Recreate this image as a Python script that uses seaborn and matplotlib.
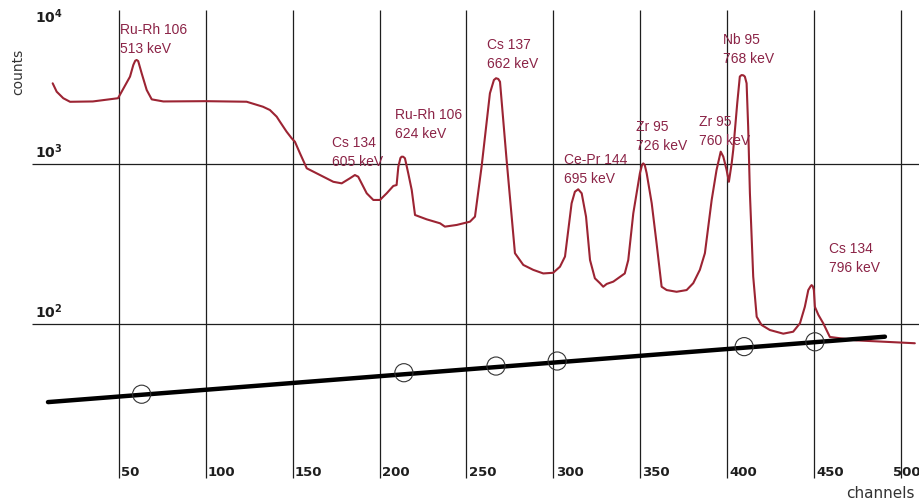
import matplotlib
matplotlib.use("Agg")
import matplotlib.pyplot as plt
import seaborn as sns
import pandas as pd

# spectrum (channel, counts)
spec_ch = [11.9, 14.2, 18.0, 21.9, 35.0, 49.5, 56.4, 58.3, 59.4, 60.2, 61.1, 63.1, 66.0, 68.9, 75.6,
           100.0, 123.5, 132.9, 136.9, 140.8, 142.7, 146.5, 149.4, 151.3, 154.2, 158.1,
           165.7, 173.4, 178.2, 183.0, 185.8, 187.7, 192.6, 196.4, 200.2, 204.1, 207.9,
           209.8, 210.8, 212.0, 212.7, 213.6, 214.6, 216.5, 218.5, 220.4, 227.1, 234.8, 237.6, 244.4,
           252.0, 254.9, 258.7, 263.5, 265.8, 267.0, 268.3, 269.3, 273.1, 277.9, 282.7, 288.4, 294.2,
           299.9, 303.8, 306.7, 310.5, 312.4, 314.3, 316.3, 318.8, 321.1, 323.9, 326.8,
           328.7, 330.7, 334.5, 341.1, 343.1, 346.0, 349.8, 351.0, 351.7, 352.6, 353.7, 356.6, 359.4,
           362.3, 365.2, 370.9, 376.7, 380.5, 384.3, 387.2, 391.1, 393.9, 396.3, 397.8,
           399.7, 401.0, 402.6, 403.5, 405.8, 407.3, 408.3, 409.4, 410.2, 411.2, 412.1, 413.1, 415.0,
           417.0, 419.8, 424.6, 432.3, 438.0, 441.9, 444.7, 446.7, 448.0, 448.6, 449.3, 449.9, 450.5,
           452.5, 455.3, 459.1, 474.5, 508.0]
spec_counts = [3194, 2831, 2577, 2448, 2460, 2577, 3516, 4159, 4420, 4467, 4400, 3690, 2901, 2535, 2460,
               2470, 2450, 2280, 2175, 1976, 1836, 1592, 1449, 1377, 1166, 940,
               853, 774, 757, 815, 853, 833, 656, 596, 596, 656, 729,
               739, 962, 1090, 1111, 1110, 1086, 875, 688, 480, 451, 426, 406, 416,
               436, 469, 962, 2767, 3350, 3436, 3400, 3266, 1059, 277, 234, 218, 207,
               209, 228, 264, 568, 671, 695, 656, 469, 251, 193, 180,
               171, 178, 184, 207, 251, 492, 875, 985, 1009, 985, 875, 568, 319,
               171, 163, 159, 163, 180, 218, 277, 596, 917, 1194, 1111,
               917, 774, 1009, 1223, 2393, 3520, 3597, 3580, 3516, 3194, 1709, 656, 198,
               111, 98.6, 91.7, 87, 89.5, 101, 128, 163, 172, 175, 172, 163, 128,
               114, 101, 83, 79, 75.8]

# calibration line and its points
line_ch = [9.2, 490.8]
line_counts = [32.5, 83.3]
circle_ch = [63.1, 214.0, 267.0, 302.2, 409.8, 450.5]
circle_counts = [36.4, 49.6, 54.6, 58.7, 72.2, 77.4]

grid_ch = [50, 100, 150, 200, 250, 300, 350, 400, 450, 500]
tick_labels = ["50", "100", "150", "200", "250", "300", "350", "400", "450", "500"]
decades = [100, 1000]
decade_labels = [r"$\mathregular{10^2}$", r"$\mathregular{10^3}$", r"$\mathregular{10^4}$"]

peak_names = ["Ru-Rh 106\n513 keV", "Cs 134\n605 keV", "Ru-Rh 106\n624 keV",
              "Cs 137\n662 keV", "Ce-Pr 144\n695 keV", "Zr 95\n726 keV",
              "Zr 95\n760 keV", "Nb 95\n768 keV", "Cs 134\n796 keV"]
label_pos = [(50.6, 7600), (172.6, 1496), (208.9, 2228), (262.0, 6105), (306.0, 1166),
             (347.5, 1884), (383.9, 2024), (397.7, 6561), (458.6, 327)]

RED = "#9c2433"
TXT = "#8b2346"
INK = "#1e1e1e"

sns.set_style("white")
plt.rcParams['font.family'] = ['DejaVu Sans']

fig = plt.figure(figsize=(9.19, 5.04), dpi=100)
ax = fig.add_axes([32 / 919, 20 / 504, 887 / 919, 480 / 504])
ax.set_yscale("log")
ax.set_xlim(0, 510.4)
ax.set_ylim(10, 1e4)
for s in ax.spines.values():
    s.set_visible(False)
ax.set_xticks([])
ax.set_yticks([])
ax.minorticks_off()

# grid
ax.vlines(grid_ch, 10.9, 9170, color=INK, lw=0.9, zorder=1)
ax.hlines(decades, 0, 510.4, color=INK, lw=0.9, zorder=1)

spec = pd.DataFrame({"channel": spec_ch, "counts": spec_counts})
sns.lineplot(data=spec, x="channel", y="counts", sort=False, estimator=None,
             color=RED, lw=1.5, ax=ax, zorder=3, solid_joinstyle="round")

cal = pd.DataFrame({"channel": line_ch, "counts": line_counts})
sns.lineplot(data=cal, x="channel", y="counts", sort=False, estimator=None,
             color="black", lw=3.2, ax=ax, zorder=4)
pts = pd.DataFrame({"channel": circle_ch, "counts": circle_counts})
sns.scatterplot(data=pts, x="channel", y="counts", marker="o", s=170,
                facecolor="none", edgecolor="#333333", linewidth=0.8, ax=ax, zorder=5)
ax.set_xlabel("")
ax.set_ylabel("")

# tick labels next to the grid lines
for ch, lab in zip(grid_ch, tick_labels):
    xoff = 1.3 if ch != 500 else -4.8
    ax.text(ch + xoff, 11.3, lab, fontsize=9.5, color=INK, fontweight="bold",
            ha="left", va="baseline")

for y, lab in zip([105, 1050, 7300], decade_labels):
    ax.text(1.7, y, lab, fontsize=10, color=INK, fontweight="bold", ha="left", va="bottom")

for (x, y), name in zip(label_pos, peak_names):
    ax.text(x, y, name, fontsize=10, color=TXT, ha="left", va="top", linespacing=1.45,
            family=["Liberation Sans", "DejaVu Sans"])

fig.text(18 / 919, 1 - 72 / 504, "counts", rotation=90, fontsize=10, color="#333333",
         ha="center", va="center")
fig.text(915 / 919, 1 - 494 / 504, "channels", fontsize=11, color="#333333",
         ha="right", va="center")

fig.savefig("out.png", dpi=100)
